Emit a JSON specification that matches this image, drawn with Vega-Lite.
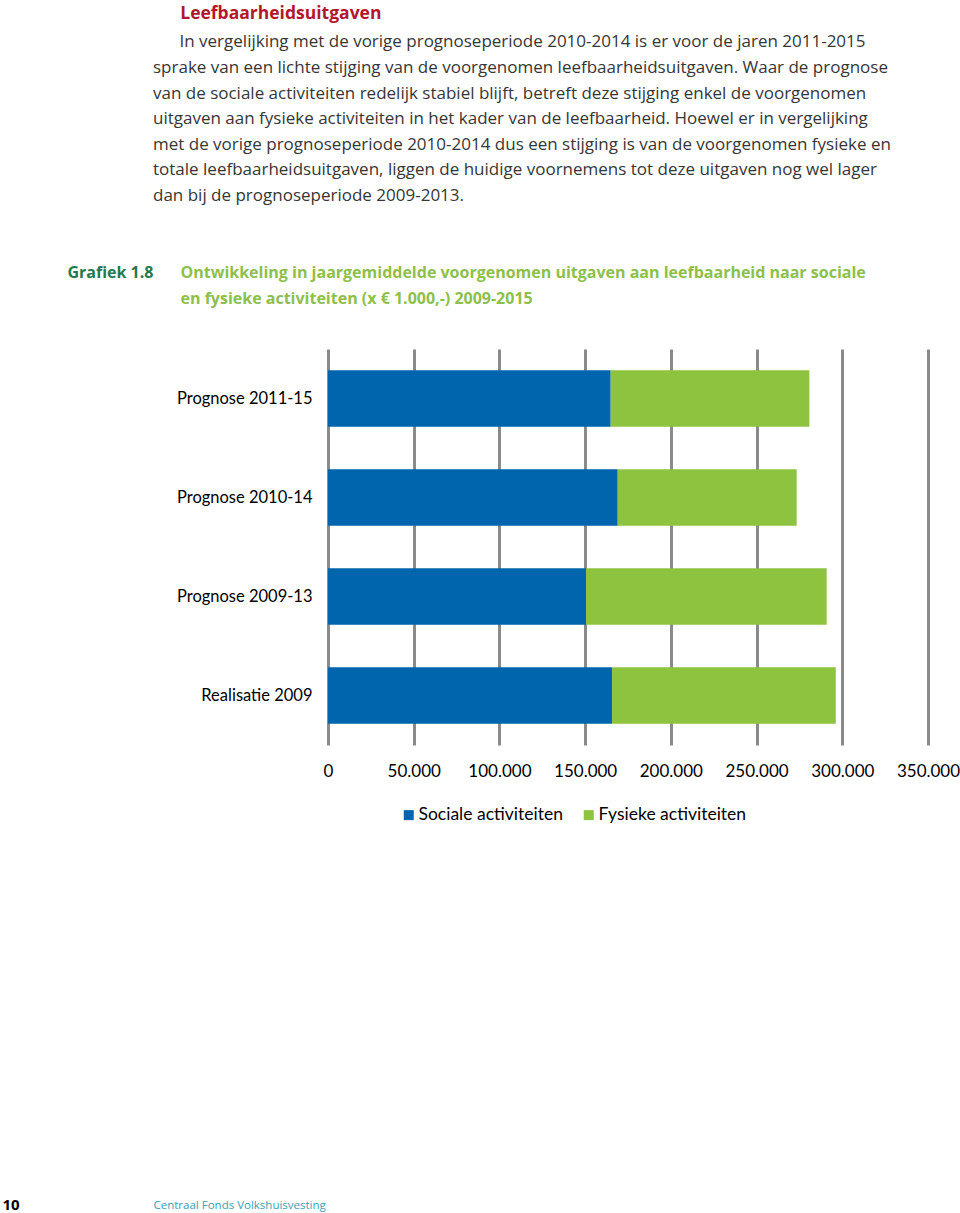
{
  "$schema": "https://vega.github.io/schema/vega-lite/v6.json",
  "width": 600,
  "height": 396,
  "padding": {"left": 2, "top": 4, "right": 0, "bottom": 2},
  "background": "white",
  "config": {
    "locale": {"number": {"decimal": ",", "thousands": ".", "grouping": [3], "currency": ["€ ", ""]}},
    "view": {"stroke": null},
    "font": "Lato"
  },
  "title": {
    "text": "\u200b\u00a0\u00a0\u00a0\u00a0\u00a0\u00a0Leefbaarheidsuitgaven",
    "subtitle": [
      "\u200b\u00a0\u00a0\u00a0\u00a0\u00a0\u00a0In vergelijking met de vorige prognoseperiode 2010-2014 is er voor de jaren 2011-2015",
      "sprake van een lichte stijging van de voorgenomen leefbaarheidsuitgaven. Waar de prognose",
      "van de sociale activiteiten redelijk stabiel blijft, betreft deze stijging enkel de voorgenomen",
      "uitgaven aan fysieke activiteiten in het kader van de leefbaarheid. Hoewel er in vergelijking",
      "met de vorige prognoseperiode 2010-2014 dus een stijging is van de voorgenomen fysieke en",
      "totale leefbaarheidsuitgaven, liggen de huidige voornemens tot deze uitgaven nog wel lager",
      "dan bij de prognoseperiode 2009-2013."
    ],
    "anchor": "start",
    "frame": "group",
    "dx": -175,
    "offset": 60,
    "font": "Open Sans",
    "fontSize": 17.5,
    "fontWeight": "bold",
    "color": "#b3162b",
    "subtitleFont": "Open Sans",
    "subtitleFontSize": 17,
    "subtitleFontWeight": "normal",
    "subtitleColor": "#363636",
    "subtitleLineHeight": 25.6,
    "subtitlePadding": 12
  },
  "data": {
    "values": [
      {"periode": "Prognose 2011-15", "soort": "Sociale activiteiten", "bedrag": 164900},
      {"periode": "Prognose 2011-15", "soort": "Fysieke activiteiten", "bedrag": 115900},
      {"periode": "Prognose 2010-14", "soort": "Sociale activiteiten", "bedrag": 169000},
      {"periode": "Prognose 2010-14", "soort": "Fysieke activiteiten", "bedrag": 104400},
      {"periode": "Prognose 2009-13", "soort": "Sociale activiteiten", "bedrag": 150500},
      {"periode": "Prognose 2009-13", "soort": "Fysieke activiteiten", "bedrag": 140400},
      {"periode": "Realisatie 2009", "soort": "Sociale activiteiten", "bedrag": 165700},
      {"periode": "Realisatie 2009", "soort": "Fysieke activiteiten", "bedrag": 130500}
    ]
  },
  "layer": [
    {
      "mark": {"type": "bar"},
      "encoding": {
        "y": {
          "field": "periode",
          "type": "nominal",
          "sort": ["Prognose 2011-15", "Prognose 2010-14", "Prognose 2009-13", "Realisatie 2009"],
          "scale": {"paddingInner": 0.43, "paddingOuter": 0.215},
          "axis": {
            "orient": "left",
            "ticks": false,
            "domain": false,
            "grid": false,
            "labelFont": "Lato",
            "labelFontSize": 16.5,
            "labelColor": "#000000",
            "labelPadding": 16,
            "title": "Grafiek 1.8",
            "titleAngle": 0,
            "titleAlign": "left",
            "titleBaseline": "alphabetic",
            "titleX": -261,
            "titleY": -72,
            "titleFont": "Open Sans",
            "titleFontSize": 16,
            "titleFontWeight": "bold",
            "titleColor": "#1f7a4d"
          }
        },
        "x": {
          "field": "bedrag",
          "type": "quantitative",
          "stack": "zero",
          "scale": {"domain": [0, 350000], "nice": false},
          "axis": {
            "orient": "bottom",
            "values": [0, 50000, 100000, 150000, 200000, 250000, 300000, 350000],
            "format": ",d",
            "ticks": false,
            "domain": false,
            "grid": true,
            "gridColor": "#8a8a8a",
            "gridWidth": 3,
            "gridOpacity": 1,
            "labelFont": "Lato",
            "labelFontSize": 17,
            "labelColor": "#000000",
            "labelPadding": 18,
            "labelFlush": false,
            "title": "Centraal Fonds Volkshuisvesting",
            "titleAngle": 0,
            "titleAlign": "left",
            "titleBaseline": "alphabetic",
            "titleX": -175,
            "titleY": 463,
            "titleFont": "Open Sans",
            "titleFontSize": 11.5,
            "titleFontWeight": "normal",
            "titleColor": "#3c9fb6"
          }
        },
        "color": {
          "field": "soort",
          "type": "nominal",
          "scale": {"domain": ["Sociale activiteiten", "Fysieke activiteiten"], "range": ["#0065ad", "#8dc33f"]},
          "legend": {
            "orient": "none",
            "legendX": 72,
            "legendY": 457,
            "direction": "horizontal",
            "title": null,
            "symbolType": "square",
            "symbolSize": 100,
            "symbolStrokeWidth": 0,
            "labelFont": "Lato",
            "labelFontSize": 17.5,
            "labelColor": "#000000",
            "labelOffset": 1,
            "columnPadding": 17
          }
        },
        "order": {"field": "soort", "sort": "descending"}
      }
    },
    {
      "mark": {"type": "bar", "opacity": 0},
      "encoding": {
        "y": {
          "field": "periode",
          "type": "nominal",
          "sort": ["Prognose 2011-15", "Prognose 2010-14", "Prognose 2009-13", "Realisatie 2009"],
          "axis": {
            "orient": "right",
            "labels": false,
            "ticks": false,
            "domain": false,
            "grid": false,
            "title": "10",
            "titleAngle": 0,
            "titleAlign": "left",
            "titleBaseline": "alphabetic",
            "titleX": -926,
            "titleY": 860,
            "titleFont": "Open Sans",
            "titleFontSize": 15,
            "titleFontWeight": "bold",
            "titleColor": "#000000"
          }
        },
        "x": {
          "aggregate": "sum",
          "field": "bedrag",
          "type": "quantitative",
          "scale": {"domain": [0, 350000], "nice": false},
          "axis": {
            "orient": "top",
            "labels": false,
            "ticks": false,
            "domain": false,
            "grid": false,
            "title": ["Ontwikkeling in jaargemiddelde voorgenomen uitgaven aan leefbaarheid naar sociale", "en fysieke activiteiten (x € 1.000,-) 2009-2015"],
            "titleAngle": 0,
            "titleAlign": "left",
            "titleBaseline": "alphabetic",
            "titleX": -148,
            "titleY": -72,
            "titleLineHeight": 26,
            "titleFont": "Open Sans",
            "titleFontSize": 16,
            "titleFontWeight": "bold",
            "titleColor": "#8dc04b"
          }
        }
      }
    }
  ],
  "resolve": {"axis": {"x": "independent", "y": "independent"}}
}
